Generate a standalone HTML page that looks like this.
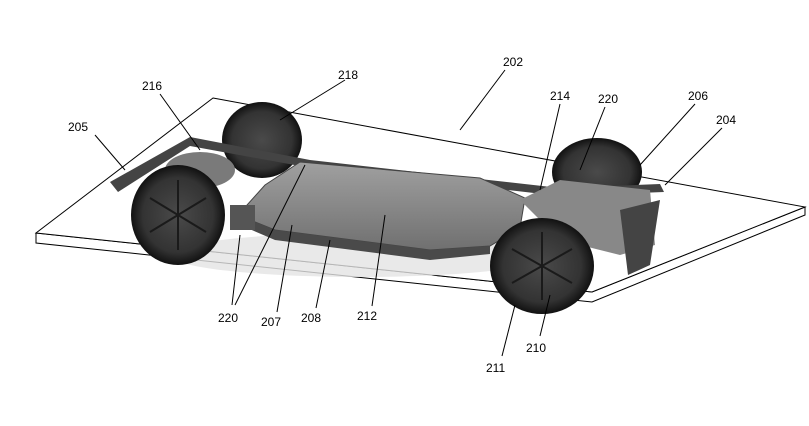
<!DOCTYPE html>
<html><head><meta charset="utf-8"><style>
html,body{margin:0;padding:0;background:#fff;}
svg{display:block;}
text{font-family:"Liberation Sans",sans-serif;font-size:12px;fill:#000;}
</style></head><body>
<svg width="809" height="426" viewBox="0 0 809 426" xmlns="http://www.w3.org/2000/svg">
<defs>
<linearGradient id="bat" x1="0" y1="0" x2="0" y2="1">
<stop offset="0" stop-color="#a0a0a0"/><stop offset="1" stop-color="#707070"/>
</linearGradient>
<radialGradient id="tire" cx="0.5" cy="0.5" r="0.5">
<stop offset="0" stop-color="#4a4a4a"/><stop offset="0.75" stop-color="#333"/><stop offset="1" stop-color="#111"/>
</radialGradient>
</defs>
<polygon points="36,233 592,292 805,207 805,215 592,302 36,243" fill="#fff" stroke="#000" stroke-width="1"/>
<polygon points="213,98 805,207 592,292 36,233" fill="#fff" stroke="#000" stroke-width="1"/>
<ellipse cx="360" cy="255" rx="190" ry="22" fill="#e4e4e4" opacity="0.8"/>
<ellipse cx="262" cy="140" rx="40" ry="38" fill="url(#tire)"/>
<ellipse cx="597" cy="172" rx="45" ry="34" fill="url(#tire)"/>
<polygon points="110,182 190,137 310,160 560,188 660,184 664,192 560,196 300,166 190,146 118,192" fill="#444"/>
<polygon points="300,162 480,178 525,198 520,228 490,246 430,250 275,230 238,215 265,185" fill="url(#bat)" stroke="#444"/>
<polygon points="238,215 275,230 430,250 490,246 490,254 430,260 275,240 240,225" fill="#4a4a4a"/>
<ellipse cx="200" cy="170" rx="35" ry="18" fill="#7a7a7a"/>
<rect x="230" y="205" width="25" height="25" fill="#555"/>
<polygon points="520,200 560,180 650,190 655,245 620,255 560,240" fill="#888"/>
<polygon points="620,210 660,200 650,265 628,275" fill="#444"/>
<ellipse cx="178" cy="215" rx="47" ry="50" fill="url(#tire)"/>
<ellipse cx="542" cy="266" rx="52" ry="48" fill="url(#tire)"/>
<g stroke="#1a1a1a" stroke-width="2">
<line x1="178" y1="180" x2="178" y2="250"/><line x1="150" y1="198" x2="206" y2="232"/><line x1="150" y1="232" x2="206" y2="198"/>
<line x1="542" y1="232" x2="542" y2="300"/><line x1="512" y1="249" x2="572" y2="283"/><line x1="512" y1="283" x2="572" y2="249"/>
</g>
<g stroke="#000" stroke-width="1">
<line x1="505" y1="70" x2="460" y2="130"/>
<line x1="345" y1="80" x2="280" y2="120"/>
<line x1="160" y1="94" x2="200" y2="150"/>
<line x1="95" y1="135" x2="125" y2="170"/>
<line x1="560" y1="104" x2="540" y2="190"/>
<line x1="605" y1="107" x2="580" y2="170"/>
<line x1="695" y1="104" x2="640" y2="165"/>
<line x1="722" y1="128" x2="665" y2="185"/>
<line x1="232" y1="305" x2="240" y2="235"/>
<line x1="235" y1="305" x2="305" y2="165"/>
<line x1="277" y1="312" x2="292" y2="225"/>
<line x1="316" y1="308" x2="330" y2="240"/>
<line x1="372" y1="306" x2="385" y2="215"/>
<line x1="502" y1="356" x2="515" y2="305"/>
<line x1="540" y1="336" x2="550" y2="295"/>
</g>
<text x="503" y="66">202</text>
<text x="338" y="79">218</text>
<text x="142" y="90">216</text>
<text x="68" y="131">205</text>
<text x="550" y="100">214</text>
<text x="598" y="103">220</text>
<text x="688" y="100">206</text>
<text x="716" y="124">204</text>
<text x="218" y="322">220</text>
<text x="261" y="326">207</text>
<text x="301" y="322">208</text>
<text x="357" y="320">212</text>
<text x="486" y="372">211</text>
<text x="526" y="352">210</text>
</svg>
</body></html>
